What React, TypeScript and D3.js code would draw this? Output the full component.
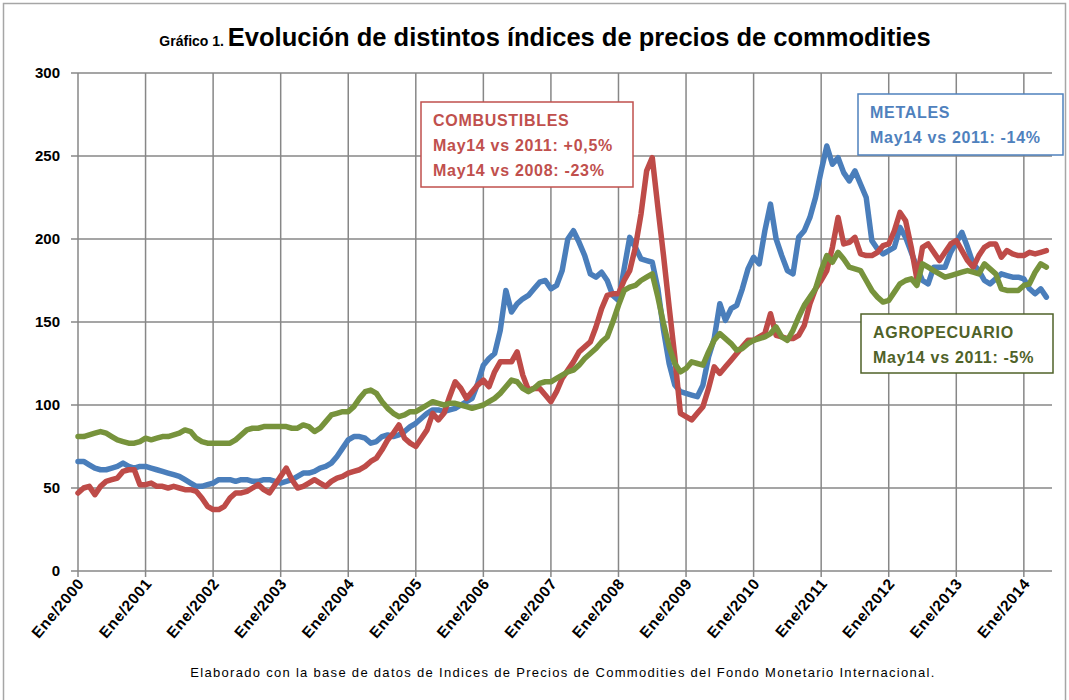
import React from "react";
import * as d3 from "d3";

// monthly index values, Ene/2000 .. May/2014
const metales = [
  66, 66, 64, 62, 61, 61, 62, 63, 65, 63, 62, 63,
  63, 62, 61, 60, 59, 58, 57, 55, 53, 51, 51, 52,
  53, 55, 55, 55, 54, 55, 55, 54, 54, 55, 55, 54,
  53, 54, 55, 57, 59, 59, 60, 62, 63, 65, 69, 74,
  79, 81, 81, 80, 77, 78, 81, 82, 81, 82, 84, 87,
  89, 92, 95, 97, 97, 96, 97, 98, 100, 102, 104, 113,
  124, 128, 131, 145, 169, 156, 161, 164, 166, 170, 174, 175,
  170, 172, 181, 200, 205, 198, 190, 179, 177, 180, 175, 166,
  163, 182, 201, 195, 188, 187, 186, 170, 145, 125, 112, 108,
  107, 106, 105, 112, 129, 140, 161, 151, 158, 160, 170, 182,
  189, 185, 205, 221, 200, 190, 181, 179, 201, 205, 213, 225,
  241, 256, 245, 249, 240, 235, 241, 233, 225, 199, 194, 191,
  193, 195, 207, 201, 192, 183, 175, 173, 183, 183, 183, 192,
  198, 204, 195, 185, 181, 175, 173, 176, 179, 178, 177, 177,
  176, 170, 167, 170, 165,
];

const combustibles = [
  47, 50, 51, 46, 51, 54, 55, 56, 60, 61, 61, 52,
  52, 53, 51, 51, 50, 51, 50, 49, 49, 48, 44, 39,
  37, 37, 39, 44, 47, 47, 48, 50, 52, 49, 47, 52,
  57, 62, 55, 50, 51, 53, 55, 53, 51, 54, 56, 57,
  59, 60, 61, 63, 66, 68, 73, 79, 83, 88, 80, 77,
  75, 80, 85, 95, 91, 95, 105, 114, 110, 104, 108, 112,
  115, 111, 120, 126, 126, 126, 132, 118, 109, 110, 110, 106,
  102, 108, 116, 121, 126, 132, 135, 138, 147, 158, 166, 167,
  167, 175, 181, 195, 215, 241, 249, 219, 190, 159, 129, 95,
  93, 91, 95, 99, 110, 123, 119, 123, 127, 131, 135, 139,
  139, 141, 143, 155, 142, 141, 140, 140, 142, 148, 161, 170,
  175, 181, 195, 213, 197, 198, 201, 191, 190, 190, 192, 196,
  197, 205, 216, 211, 195, 176, 195, 197, 192, 187, 192, 197,
  199, 193, 187, 183, 190, 195, 197, 197, 189, 193, 191, 190,
  190, 192, 191, 192, 193,
];

const agropecuario = [
  81, 81, 82, 83, 84, 83, 81, 79, 78, 77, 77, 78,
  80, 79, 80, 81, 81, 82, 83, 85, 84, 80, 78, 77,
  77, 77, 77, 77, 79, 82, 85, 86, 86, 87, 87, 87,
  87, 87, 86, 86, 88, 87, 84, 86, 90, 94, 95, 96,
  96, 99, 104, 108, 109, 107, 102, 98, 95, 93, 94, 96,
  96, 98, 100, 102, 101, 100, 101, 101, 100, 99, 98, 99,
  100, 102, 104, 107, 111, 115, 114, 110, 108, 110, 113, 114,
  114, 116, 118, 120, 121, 124, 128, 131, 134, 138, 141, 150,
  160, 169, 171, 172, 175, 177, 179, 165, 149, 135, 125, 120,
  122, 126, 125, 124, 132, 139, 143, 140, 137, 133, 134, 137,
  139, 140, 141, 143, 147, 141, 139, 145, 153, 160, 165, 170,
  181, 190, 186, 192, 188, 183, 182, 181, 175, 169, 165, 162,
  163, 168, 173, 175, 176, 172, 185, 183, 181, 179, 177, 178,
  179, 180, 181, 180, 179, 185, 182, 179, 170, 169, 169, 169,
  172, 173, 180, 185, 183,
];

const years = d3.range(2000, 2015);
const xLabels = years.map((y) => "Ene/" + y);
const yTicks = [0, 50, 100, 150, 200, 250, 300];

const series = [
  { name: "metales", values: metales, color: "#4A7EBB" },
  { name: "combustibles", values: combustibles, color: "#BE4B48" },
  { name: "agropecuario", values: agropecuario, color: "#77933C" },
];

const notes = [
  {
    x: 421, y: 102, w: 212, h: 85, color: "#C0504D",
    lines: ["COMBUSTIBLES", "May14 vs 2011: +0,5%", "May14 vs 2008: -23%"],
  },
  {
    x: 858, y: 94, w: 205, h: 61, color: "#4F81BD",
    lines: ["METALES", "May14 vs 2011: -14%"],
  },
  {
    x: 861, y: 314, w: 192, h: 59, color: "#4F6228",
    lines: ["AGROPECUARIO", "May14 vs 2011: -5%"],
  },
];

const font = "'Liberation Sans', Arial, sans-serif";

export default function App() {
  const x = d3.scaleLinear().domain([0, 173]).range([78, 1052]);
  const y = d3.scaleLinear().domain([0, 300]).range([571, 73]);

  const line = d3
    .line<number>()
    .x((d, i) => x(i))
    .y((d) => y(d))
    .curve(d3.curveLinear);

  const grid = "#878787";

  return (
    <div style={{ position: "absolute", left: 0, top: 0 }}>
      <svg width={1069} height={700} style={{ display: "block", fontFamily: font }}>
        <rect x={0} y={0} width={1069} height={700} fill="#fff" />
        <rect x={3.5} y={3.5} width={1062} height={710} fill="none" stroke="#a6a6a6" strokeWidth={1.5} />

        {/* title */}
        <text x={545} y={46} textAnchor="middle" fontWeight="bold" fill="#000">
          <tspan fontSize={14}>Gráfico 1. </tspan>
          <tspan fontSize={25.5}>Evolución de distintos índices de precios de commodities</tspan>
        </text>

        {/* grid */}
        {yTicks.map((t) => (
          <g key={"y" + t}>
            <line x1={71} x2={x(173)} y1={y(t)} y2={y(t)} stroke={grid} strokeWidth={1.5} />
            <text x={60} y={y(t) + 5} textAnchor="end" fontSize={15} fontWeight="bold">
              {t}
            </text>
          </g>
        ))}
        {years.map((yr, k) => {
          const xi = x(k * 12);
          return (
            <g key={"x" + yr}>
              <line x1={xi} x2={xi} y1={y(300)} y2={y(0) + 6} stroke={grid} strokeWidth={1.5} />
              <text
                transform={`translate(${xi + 7},${y(0) + 13}) rotate(-50)`}
                textAnchor="end"
                fontSize={15.5}
                fontWeight="bold"
                letterSpacing={0.6}
              >
                {xLabels[k]}
              </text>
            </g>
          );
        })}

        {/* series */}
        {series.map((s) => (
          <path
            key={s.name}
            d={line(s.values) || ""}
            fill="none"
            stroke={s.color}
            strokeWidth={5.5}
            strokeLinejoin="round"
            strokeLinecap="round"
          />
        ))}

        {/* annotation boxes */}
        {notes.map((n, k) => (
          <g key={"n" + k}>
            <rect x={n.x} y={n.y} width={n.w} height={n.h} fill="#fff" stroke={n.color} strokeWidth={1.5} />
            {n.lines.map((l, j) => (
              <text
                key={j}
                x={n.x + 12}
                y={n.y + 24 + j * 25}
                fontSize={16}
                fontWeight="bold"
                letterSpacing={0.7}
                fill={n.color}
              >
                {l}
              </text>
            ))}
          </g>
        ))}

        {/* source */}
        <text x={563} y={677} textAnchor="middle" fontSize={13} letterSpacing={1.3}>
          Elaborado con la base de datos de Indices de Precios de Commodities del Fondo Monetario Internacional.
        </text>
      </svg>
    </div>
  );
}
